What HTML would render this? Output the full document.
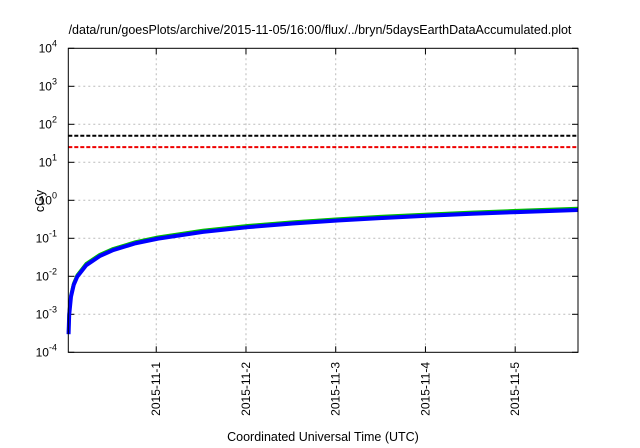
<!DOCTYPE html>
<html><head><meta charset="utf-8"><style>
body{margin:0;background:#fff;}
svg{display:block;font-family:"Liberation Sans",sans-serif;}
</style></head><body>
<svg id="c" width="640" height="448"></svg>
<script>
const times=[0.003,0.01,0.03,0.06,0.1,0.2,0.35,0.5,0.75,1,1.5,2,2.5,3,3.5,4,4.5,5,5.68];
const blueVals=[0.0003,0.00098,0.0029,0.0059,0.0098,0.0196,0.034,0.049,0.074,0.098,0.147,0.196,0.245,0.294,0.343,0.392,0.441,0.49,0.557];
const greenVals=[0.00033,0.00107,0.0032,0.0064,0.0107,0.0214,0.037,0.053,0.080,0.107,0.160,0.214,0.267,0.320,0.374,0.427,0.481,0.534,0.607];
const orangeVals=[0.00034,0.0011,0.0033,0.0066,0.011,0.022,0.038,0.055,0.082,0.110,0.165,0.220,0.274,0.329,0.384,0.439,0.494,0.549,0.624];
const thresholds=[50,25];
const yTickExps=[-4,-3,-2,-1,0,1,2,3,4];
const xTickDays=[0.98,1.98,2.98,3.98,4.98];
const xTickLabels=["2015-11-1","2015-11-2","2015-11-3","2015-11-4","2015-11-5"];
const L=68.3,R=578,T=48.3,B=352.3,tMax=5.68;
const X=t=>L+(R-L)*t/tMax;
const Y=v=>B-(B-T)*(Math.log10(v)+4)/8;
const svg=document.getElementById('c');
const NS='http://www.w3.org/2000/svg';
function mk(tag,attrs,parent){const e=document.createElementNS(NS,tag);for(const k in attrs)e.setAttribute(k,attrs[k]);(parent||svg).appendChild(e);return e;}
let e;
e=mk('text',{x:320,y:34,'text-anchor':'middle','font-size':12.5,fill:'#000'});
e.textContent='/data/run/goesPlots/archive/2015-11-05/16:00/flux/../bryn/5daysEarthDataAccumulated.plot';


yTickExps.forEach(p=>{const y=Y(Math.pow(10,p));
 if(p>-4&&p<4){e=mk('line',{x1:L,x2:R,y1:y,y2:y,stroke:'#bbb','stroke-dasharray':'2,3','stroke-width':1});
 
 }
 mk('line',{x1:L,x2:L+6,y1:y,y2:y,stroke:'#000'});mk('line',{x1:R-6,x2:R,y1:y,y2:y,stroke:'#000'});
 e=mk('text',{x:57,y:y+4,'text-anchor':'end','font-size':12});
 e.innerHTML='10<tspan dy="-6" font-size="9">'+p+'</tspan>';
 
 
});
xTickDays.forEach((d,i)=>{const x=X(d);
 e=mk('line',{x1:x,x2:x,y1:T,y2:B,stroke:'#bbb','stroke-dasharray':'2,3','stroke-width':1});
 
 
 mk('line',{x1:x,x2:x,y1:B,y2:B-6,stroke:'#000'});mk('line',{x1:x,x2:x,y1:T,y2:T+6,stroke:'#000'});
 e=mk('text',{transform:`translate(${x+4},362) rotate(-90)`,'text-anchor':'end','font-size':12});
 e.textContent=xTickLabels[i];
 
 
});
const thrColors=['#000','#e00'];
thresholds.forEach((v,i)=>{e=mk('line',{x1:L,x2:R,y1:Y(v),y2:Y(v),stroke:thrColors[i],'stroke-width':2,'stroke-dasharray':'4,2'});
 
 });
function series(vals,color,w,name){const d=times.map((t,i)=>(i?'L':'M')+X(t).toFixed(2)+','+Y(vals[i]).toFixed(2)).join('');
 const p=mk('path',{d:d,fill:'none',stroke:color,'stroke-width':w,'stroke-linejoin':'round'});
 
 }
series(orangeVals,'#e08020',2,'series-orange');
series(greenVals,'#00c000',3.5,'series-green');
series(blueVals,'#0000ff',4,'series-blue');
e=mk('rect',{x:L,y:T,width:R-L,height:B-T,fill:'none',stroke:'#000','stroke-width':1});


e=mk('text',{transform:'translate(44,201) rotate(-90)','text-anchor':'middle','font-size':12.5});
e.textContent='cGy';


e=mk('text',{x:323,y:441,'text-anchor':'middle','font-size':12.5});
e.textContent='Coordinated Universal Time (UTC)';


</script>
</body></html>
